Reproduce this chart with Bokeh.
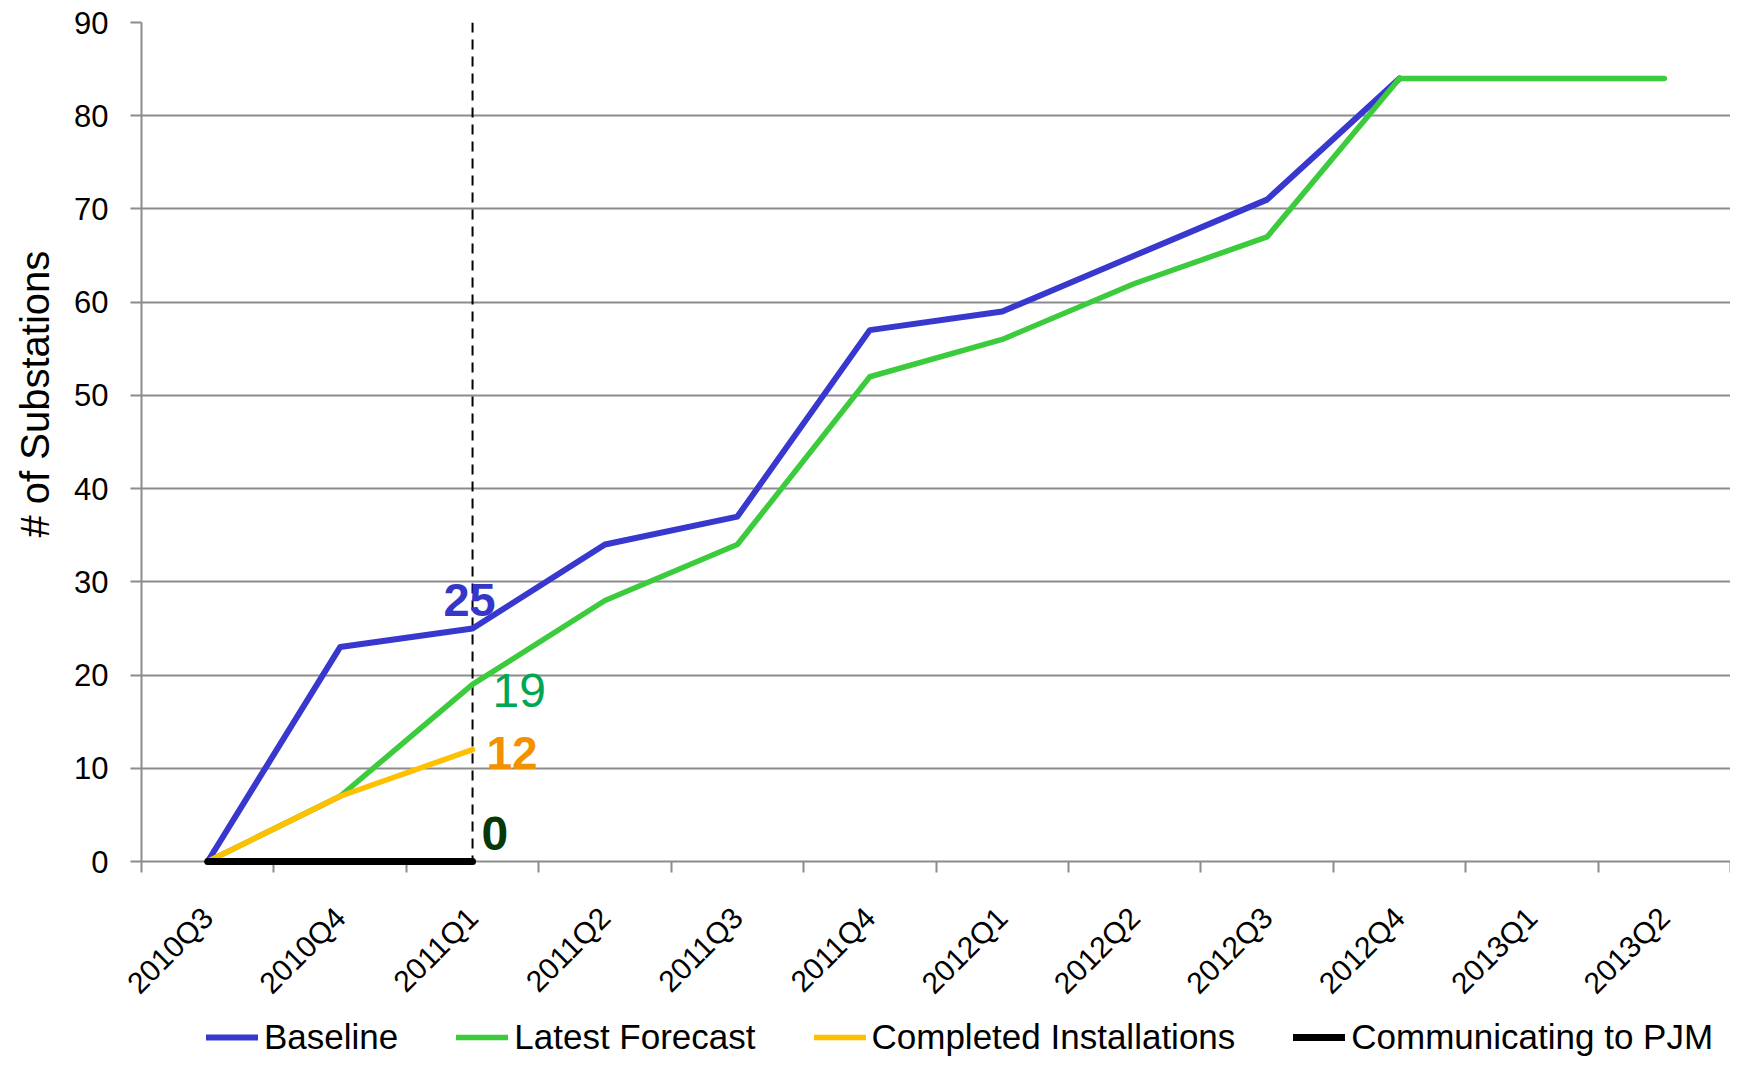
import math
from bokeh.plotting import figure
from bokeh.layouts import column
from bokeh.models import (Range1d, FixedTicker, Legend, LegendItem, Span, Title)
from bokeh.core.properties import value
from bokeh.embed import file_html
from bokeh.resources import INLINE

# ---------------- data ----------------
quarters = ["2010Q3", "2010Q4", "2011Q1", "2011Q2", "2011Q3", "2011Q4",
            "2012Q1", "2012Q2", "2012Q3", "2012Q4", "2013Q1", "2013Q2"]
baseline = [0, 23, 25, 34, 37, 57, 59, 65, 71, 84]
latest_forecast = [0, 7, 19, 28, 34, 52, 56, 62, 67, 84, 84, 84]
completed = [0, 7, 12]
communicating = [0, 0, 0]
y_ticks = [0, 10, 20, 30, 40, 50, 60, 70, 80, 90]
current_quarter = "2011Q1"
callouts = [("25", 25), ("19", 19), ("12", 12), ("0", 0)]
series_names = ["Baseline", "Latest Forecast", "Completed Installations",
                "Communicating to PJM"]

FONT = "Liberation Sans"
GRID = "#8c8c8c"
BLUE = "#3838cf"
GREEN = "#3ccb3c"
YELLOW = "#ffc000"
styles_lines = [(BLUE, 6), (GREEN, 5.5), (YELLOW, 5.5), ("black", 7)]


def xpos(n):
    return [i + 0.5 for i in range(n)]


p = figure(width=1730, height=1017,
           x_range=Range1d(0, len(quarters)), y_range=Range1d(0, 90),
           output_backend="svg", toolbar_location=None,
           min_border_left=139, min_border_right=0,
           min_border_top=22, min_border_bottom=156)
p.outline_line_color = None
p.background_fill_color = "white"
p.border_fill_color = "white"

# grid
p.xgrid.visible = False
p.ygrid.grid_line_color = GRID
p.ygrid.grid_line_width = 2

# y axis
p.yaxis.ticker = FixedTicker(ticks=y_ticks)
p.yaxis.axis_line_color = GRID
p.yaxis.axis_line_width = 2
p.yaxis.major_tick_line_color = GRID
p.yaxis.major_tick_line_width = 2
p.yaxis.major_tick_out = 11
p.yaxis.major_tick_in = 0
p.yaxis.minor_tick_line_color = None
p.yaxis.major_label_text_font = FONT
p.yaxis.major_label_text_font_size = "31px"
p.yaxis.major_label_text_color = "black"
p.yaxis.major_label_standoff = 22

# y title, outside the axis, sitting above the frame's middle like the original
ytitle = Title(text="# of Substations", text_font=FONT, text_font_size="40px",
               text_font_style="normal", text_color="black",
               align="left", offset=324, vertical_align="top", standoff=25)
p.add_layout(ytitle, "left")

# x axis
xc = xpos(len(quarters))
p.xaxis.ticker = FixedTicker(ticks=xc, minor_ticks=list(range(len(quarters) + 1)))
p.xaxis.major_label_overrides = {x: q for x, q in zip(xc, quarters)}
p.xaxis.major_label_orientation = math.pi / 4
p.xaxis.major_label_text_font = FONT
p.xaxis.major_label_text_font_size = "30px"
p.xaxis.major_label_text_color = "black"
p.xaxis.major_label_standoff = 40
p.xaxis.major_tick_out = 0
p.xaxis.major_tick_in = 0
p.xaxis.minor_tick_out = 11
p.xaxis.minor_tick_in = 0
p.xaxis.minor_tick_line_color = GRID
p.xaxis.minor_tick_line_width = 2
p.xaxis.axis_line_color = GRID
p.xaxis.axis_line_width = 2

# current quarter dashed marker
cq = quarters.index(current_quarter) + 0.5
p.add_layout(Span(location=cq, dimension="height", line_color="black",
                  line_width=2, line_dash="10 7"))

# series
all_series = [baseline, latest_forecast, completed, communicating]
for ys, (col, lw) in zip(all_series, styles_lines):
    p.line(xpos(len(ys)), ys, line_color=col, line_width=lw,
           line_cap="round", line_join="round", level="overlay")

# callouts at the current quarter
styles = [
    dict(color="#3636c8", style="bold", align="center", dx=-3, dy=-28, size="47px"),
    dict(color="#00a651", style="normal", align="left", dx=20, dy=6, size="48px"),
    dict(color="#f39200", style="bold", align="left", dx=14, dy=3, size="46px"),
    dict(color="#073807", style="bold", align="left", dx=9, dy=-28, size="48px"),
]
for (txt, val), st in zip(callouts, styles):
    p.text(x=[cq], y=[val], text=[txt], text_color=st["color"],
           text_font=value(FONT), text_font_size=st["size"],
           text_font_style=st["style"], text_align=st["align"],
           text_baseline="alphabetic", x_offset=st["dx"], y_offset=st["dy"],
           level="overlay")

# ---------------- legend strip ----------------
lg = figure(width=1730, height=41, x_range=Range1d(0, 1), y_range=Range1d(0, 1),
            output_backend="svg", toolbar_location=None,
            x_axis_location=None, y_axis_location=None,
            min_border_left=0, min_border_right=0, min_border_top=0,
            min_border_bottom=0)
lg.outline_line_color = None
lg.xgrid.visible = False
lg.ygrid.visible = False
items = []
for name, (col, lw) in zip(series_names, styles_lines):
    # legend proxies, placed outside the strip's visible range
    r = lg.line(x=[-2, -1], y=[-2, -2], line_color=col, line_width=lw,
                line_cap="round")
    items.append(LegendItem(label=name, renderers=[r]))
legend = Legend(items=items, orientation="horizontal", location=(65, 1),
                padding=0, margin=0, spacing=58, glyph_width=52, glyph_height=20,
                label_standoff=6, label_text_font=FONT, label_text_font_size="35px",
                label_text_color="black", background_fill_alpha=0,
                border_line_alpha=0)
lg.add_layout(legend, "center")

layout = column(p, lg, spacing=0)
open("out.html", "w").write(file_html(layout, INLINE))
